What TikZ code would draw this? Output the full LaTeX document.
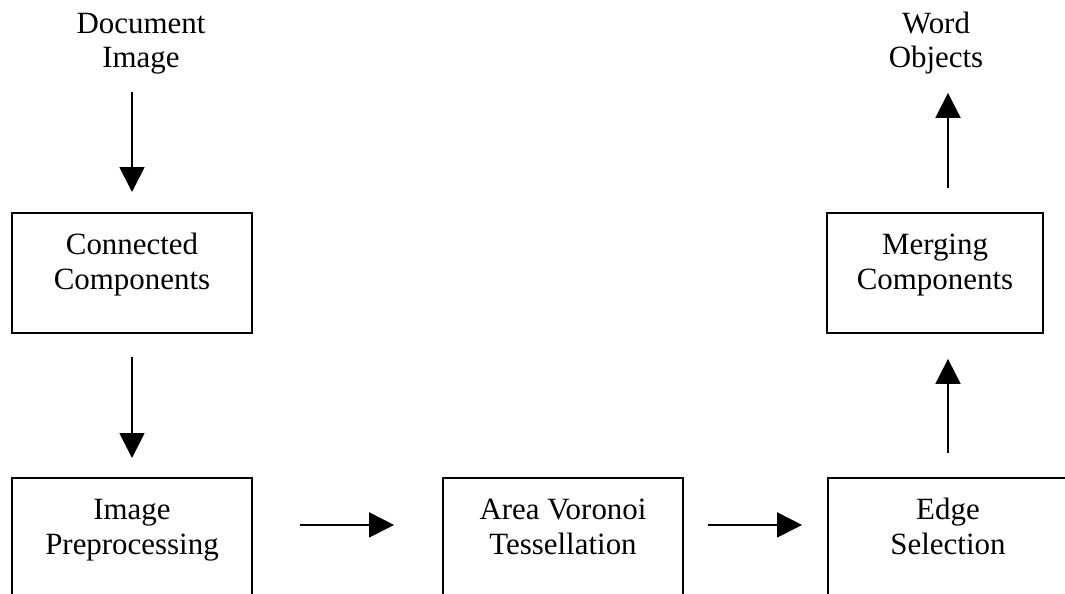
\documentclass[tikz,border=0pt]{standalone}
\usepackage{fontspec}
\setmainfont{Liberation Serif}
\usetikzlibrary{arrows.meta}

\begin{document}
\begin{tikzpicture}[x=0.02cm, y=-0.02cm,
        every node/.style={font=\fontsize{17.6pt}{19.9pt}\selectfont, align=center},
        txt/.style={inner sep=0pt, anchor=base},
        box/.style={draw, line width=1.1pt, anchor=north, minimum width=4.8cm, minimum height=2.4cm, text height=1.12cm, text depth=0.44cm},
        arr/.style={line width=1.1pt, -{Triangle[length=0.5cm, width=0.5cm]}}]
        \useasboundingbox (0,0) rectangle (1065,594);
        \clip (0,0) rectangle (1065,594);
        \node[txt] (doc) at (141,68) {Document\\Image};
        \node[txt] (word) at (936,68) {Word\\Objects};
        \node[box] (cc) at (132,212) {Connected\\Components};
        \node[box, minimum width=4.32cm] (mc) at (935,212) {Merging\\Components};
        \node[box] (ip) at (132,477) {Image\\Preprocessing};
        \node[box] (avt) at (563,477) {Area Voronoi\\Tessellation};
        \node[box] (es) at (948,477) {Edge\\Selection};
        \draw[arr, shorten <=0.34cm, shorten >=0.4cm] (doc.south -| cc.north) -- (cc.north);
        \draw[arr, shorten <=0.46cm, shorten >=0.38cm] (cc.south) -- (ip.north);
        \draw[arr, shorten <=0.94cm, shorten >=0.96cm] ([yshift=0.26cm]ip.east) -- ([yshift=0.26cm]avt.west);
        \draw[arr, shorten <=0.48cm, shorten >=0.5cm] ([yshift=0.26cm]avt.east) -- ([yshift=0.26cm]es.west);
        \draw[arr, shorten <=0.48cm, shorten >=0.5cm] (es.north) -- (es.north |- mc.south);
        \draw[arr, shorten <=0.48cm, shorten >=0.36cm] (es.north |- mc.north) -- (es.north |- word.south);
    \end{tikzpicture}
\end{document}
